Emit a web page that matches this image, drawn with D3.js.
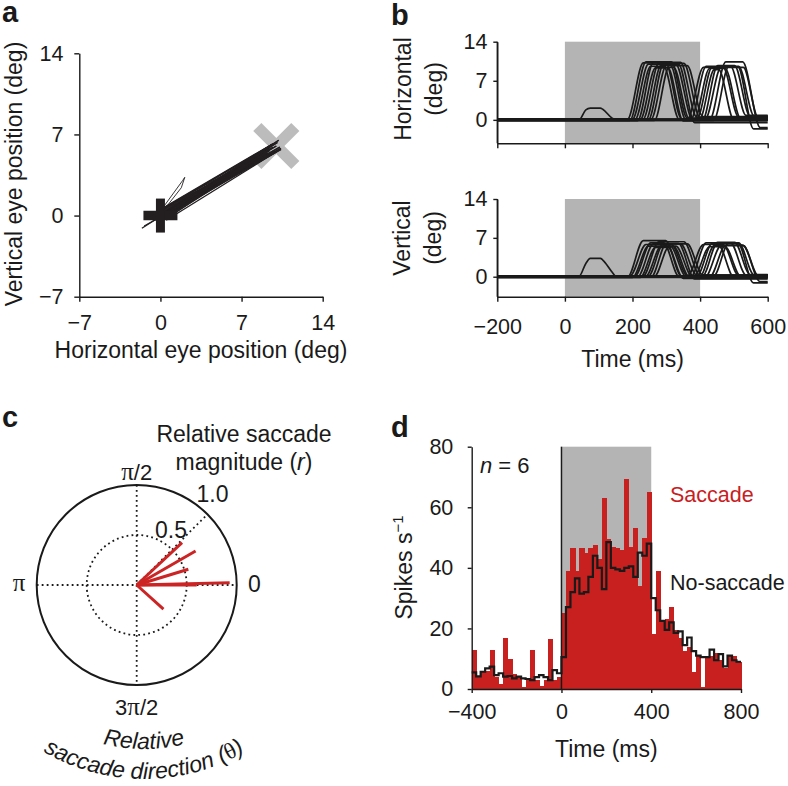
<!DOCTYPE html>
<html><head><meta charset="utf-8">
<script src="https://cdn.jsdelivr.net/npm/d3@7"></script>
<style>
body{margin:0;background:#fff}
svg{display:block;font-family:"Liberation Sans",Arial,Helvetica,sans-serif}
</style></head><body>
<svg id="fig" width="788" height="786"></svg>
<script>
// ---------------- DATA ----------------
// panel a
const eyeTicks = [-7, 0, 7, 14];
const fixationPoint = [0, 0];
const targetPoint = [10, 6];
// panel b : trials (time keypoints in ms, amplitudes in deg)
const traceTimeTicks = [-200, 0, 200, 400, 600];
const traceValueTicks = [0, 7, 14];
const stimWindow = [0, 400];
const trialOnset  = [185,192,200,207,215,223,231,239,247,255,265, 362,372,382,390,398,407,415,428,440];
const trialPeak   = [232,240,247,254,262,268,278,285,292,300,308, 410,418,428,436,442,452,462,476,485];
const trialReturn = [298,315,328,292,342,305,352,312,336,362,322, 468,490,474,512,455,502,528,526,514];
const trialBack   = [345,362,378,338,390,350,400,358,384,408,368, 514,536,520,558,500,548,572,578,560];
const trialStartH = [0.3,-0.4,0.5,0,-0.5,0.2,0.4,-0.2,0,0.5,-0.3, 0.2,0,-0.4,0.3,0.1,-0.2,0.4,0,-0.3];
const trialStartV = [-0.3,0.3,-0.4,0.4,-0.1,-0.4,0.3,0.2,0.5,-0.3,0.2, 0.3,-0.4,0.2,0.2,-0.3,0.4,-0.2,-0.3,0.3];
const trialAmpH   = [10.2,10.4,10.0,9.6,10.3,9.3,10.1,9.8,10.0,9.7,9.4, 9.4,9.6,9.2,9.5,9.0,9.7,9.4,10.4,9.6];
const trialAmpV   = [6.5,5.8,5.5,6.1,5.9,5.3,6.3,5.5,6.0,5.9,5.4, 5.8,6.1,5.4,6.0,5.6,6.2,5.6,5.7,6.1];
const trialEndH   = [0.2,0.3,0,0.1,0.5,-0.2,0.4,0,-0.5,0.6,0.2, 0.5,0.8,0.3,-1.6,0,0.6,0.4,-1.4,0.7];
const trialEndV   = [0.1,0.2,-0.1,0,0.3,-0.3,0.2,0.1,-0.4,0.3,0, 0.2,0.3,0.1,-1.1,-0.1,0.4,0.2,-0.9,0.3];
const bumpTimes = [-200, 42, 62, 75, 105, 112, 140, 152, 600];
const bumpH     = [0, 0, 1.8, 2.1, 2.1, 1.9, 0.3, 0, 0];
const bumpV     = [0, 0.1, 2.4, 3.3, 3.3, 3.0, 0.8, 0, 0];
// panel c
const polarRings = [0.5, 1.0];
const saccadeAngleDeg = [43, 30, 17, 1.4, 0, -42];
const saccadeMagnitude = [0.62, 0.68, 0.54, 0.93, 0.60, 0.36];
// panel d
const psthTimeTicks = [-400, 0, 400, 800];
const rateTicks = [0, 20, 40, 60, 80];
const binWidth = 20;
const binStarts = d3.range(-400, 800, binWidth);
const saccadeRate = [
  13,4,5.5,6,13,4,1.5,17,10,5,4,0.5,3,13,3,1,3,16.5,3,4,
  25,39,46.5,39,46.5,45,46.5,47.5,43,63,49.5,47,46.5,46,69.5,47,53,34,50,65,
  18,39,22,23,27,19.5,17,12.5,14,5.5,11,0.5,11,11,12,9.5,7,11,11,9];
const noSaccadeRate = [
  5.5,4.2,5.7,6.8,7.4,4.6,5.2,4.1,4.3,3.5,4.1,3.5,3.3,2.9,3.9,4.6,3.9,2.9,6.2,5.2,
  10.5,27,32,36.5,31.5,32,37,44,40,33,48.5,40,39.5,39,40,40.5,37,45,44,48,
  30,26,22.5,19.5,22,18.5,19,14.5,17,12.5,11,10.5,10.5,13,9.5,11.5,7.5,11,9.5,9];

// ---------------- DRAW ----------------
const svg = d3.select("#fig");
const INK = "#1a1a1a", RED = "#c8201e", GREY = "#b4b4b4", XGREY = "#bcbcbc";
const TICK = 21.5, TITLE = 23;

function styleAxis(g) {
  g.attr("font-family", null).attr("font-size", TICK);
  g.select(".domain").attr("stroke", INK).attr("stroke-width", 1.4);
  g.selectAll(".tick line").attr("stroke", INK).attr("stroke-width", 1.4);
  g.selectAll(".tick text").attr("fill", INK);
}
function label(x, y, txt, opts = {}) {
  const t = svg.append("text").attr("x", x).attr("y", y).text(txt)
    .attr("font-size", opts.size || TITLE).attr("fill", opts.fill || INK)
    .attr("text-anchor", opts.anchor || "middle");
  if (opts.rotate) t.attr("transform", `rotate(-90,${x},${y})`);
  if (opts.weight) t.attr("font-weight", opts.weight);
  if (opts.style) t.attr("font-style", opts.style);
  return t;
}

// panel letters
label(2, 22, "a", {size: 29, weight: "bold", anchor: "start"});
label(391, 25, "b", {size: 29, weight: "bold", anchor: "start"});
label(2, 427, "c", {size: 29, weight: "bold", anchor: "start"});
label(391, 437, "d", {size: 29, weight: "bold", anchor: "start"});

// ===== Panel a =====
const xA = d3.scaleLinear().domain([-7, 14]).range([79.3, 322.7]);
const yA = d3.scaleLinear().domain([-7, 14]).range([296.7, 53.3]);
svg.append("g").attr("transform", "translate(0,296.7)")
  .call(d3.axisBottom(xA).tickValues(eyeTicks).tickSize(5).tickSizeOuter(0).tickPadding(13.3)).call(styleAxis);
svg.append("g").attr("transform", "translate(79.3,0)")
  .call(d3.axisLeft(yA).tickValues(eyeTicks).tickSize(5).tickSizeOuter(0).tickPadding(10.8)).call(styleAxis);
label(201, 358, "Horizontal eye position (deg)");
label(21.5, 174, "Vertical eye position (deg)", {rotate: true});

// target X
const tx = xA(targetPoint[0]), ty = yA(targetPoint[1]);
[[1, 1], [1, -1]].forEach(([sx, sy]) => {
  svg.append("line").attr("x1", tx - 19 * sx).attr("y1", ty - 19 * sy)
    .attr("x2", tx + 19 * sx).attr("y2", ty + 19 * sy)
    .attr("stroke", XGREY).attr("stroke-width", 11.5);
});
// trajectories
const lineA = d3.line().x(d => xA(d[0])).y(d => yA(d[1]));
const gA = svg.append("g").attr("fill", "none").attr("stroke", "#231f20").attr("stroke-width", 1.3);
trialOnset.forEach((_, i) => {
  gA.append("path").attr("d", lineA([[trialStartH[i], trialStartV[i]], [trialAmpH[i], trialAmpV[i]]]));
  gA.append("path").attr("d", lineA([[trialAmpH[i], trialAmpV[i]], [trialEndH[i], trialEndV[i]]]));
});
gA.append("path").attr("d", lineA(bumpH.map((h, i) => [h, bumpV[i]]))).attr("stroke-width", 0.9);
// fixation plus
const fx = xA(fixationPoint[0]), fy = yA(fixationPoint[1]);
svg.append("line").attr("x1", fx - 17).attr("x2", fx + 17).attr("y1", fy).attr("y2", fy).attr("stroke", "#231f20").attr("stroke-width", 9.5);
svg.append("line").attr("x1", fx).attr("x2", fx).attr("y1", fy - 17).attr("y2", fy + 17).attr("stroke", "#231f20").attr("stroke-width", 9);

// ===== Panel b =====
const xB = d3.scaleLinear().domain([-200, 600]).range([497.3, 767.7]);
const yBH = d3.scaleLinear().domain([-4.2, 14]).range([143.3, 41.7]);
const yBV = d3.scaleLinear().domain([-3.6, 14]).range([296.7, 199]);
function tracePanel(y, ampArr, startArr, endArr, bumpArr, axisY, showLabels) {
  svg.append("rect").attr("x", xB(stimWindow[0])).attr("width", xB(stimWindow[1]) - xB(stimWindow[0]))
    .attr("y", y(14)).attr("height", axisY - y(14)).attr("fill", GREY);
  const ln = d3.line().x(d => xB(d[0])).y(d => y(d[1])).curve(d3.curveMonotoneX);
  const g = svg.append("g").attr("fill", "none").attr("stroke", INK).attr("stroke-width", 1.7);
  trialOnset.forEach((_, i) => {
    const s = startArr[i] * 0.3;
    const pts = [[-200, s], [trialOnset[i], s], [trialPeak[i], ampArr[i]],
      [trialReturn[i], ampArr[i]], [trialBack[i], endArr[i]], [600, endArr[i]]];
    g.append("path").attr("d", ln(pts));
  });
  g.append("path").attr("d", ln(bumpTimes.map((t, i) => [t, bumpArr[i]])));
  const ax = d3.axisBottom(xB).tickValues(traceTimeTicks).tickSize(5).tickSizeOuter(0).tickPadding(16.6);
  if (!showLabels) ax.tickFormat(() => "");
  svg.append("g").attr("transform", `translate(0,${axisY})`).call(ax).call(styleAxis);
  svg.append("g").attr("transform", "translate(497.3,0)")
    .call(d3.axisLeft(y).tickValues(traceValueTicks).tickSize(4).tickSizeOuter(0).tickPadding(5.8)).call(styleAxis);
  svg.append("line").attr("x1", 497.3).attr("x2", 497.3).attr("y1", y(14)).attr("y2", axisY).attr("stroke", INK).attr("stroke-width", 1.4);
}
tracePanel(yBH, trialAmpH, trialStartH, trialEndH, bumpH, 143.3, false);
tracePanel(yBV, trialAmpV, trialStartV, trialEndV, bumpV, 296.7, true);
label(410.5, 89, "Horizontal", {rotate: true});
label(441.5, 89, "(deg)", {rotate: true});
label(410, 238, "Vertical", {rotate: true});
label(441, 238, "(deg)", {rotate: true});
label(632.5, 366.5, "Time (ms)");

// ===== Panel c =====
const cx = 136.7, cy = 585;
const rC = d3.scaleLinear().domain([0, 1]).range([0, 100]);
const dotted = {stroke: INK, "stroke-width": 1.8, "stroke-dasharray": "1.8,3.2"};
function applyAttrs(sel, o) { Object.entries(o).forEach(([k, v]) => sel.attr(k, v)); return sel; }
applyAttrs(svg.append("circle").attr("cx", cx).attr("cy", cy).attr("r", rC(polarRings[0])).attr("fill", "none"), dotted);
applyAttrs(svg.append("line").attr("x1", cx - rC(1)).attr("x2", cx + rC(1)).attr("y1", cy).attr("y2", cy), dotted);
applyAttrs(svg.append("line").attr("x1", cx).attr("x2", cx).attr("y1", cy - rC(1)).attr("y2", cy + rC(1)), dotted);
applyAttrs(svg.append("line").attr("x1", cx).attr("y1", cy)
  .attr("x2", cx + rC(1) * Math.cos(Math.PI / 4)).attr("y2", cy - rC(1) * Math.sin(Math.PI / 4)), dotted);
svg.append("circle").attr("cx", cx).attr("cy", cy).attr("r", rC(polarRings[1])).attr("fill", "none")
  .attr("stroke", INK).attr("stroke-width", 2);
const gC = svg.append("g").attr("stroke", "#cc2424").attr("stroke-width", 3).attr("stroke-linecap", "butt");
saccadeAngleDeg.forEach((a, i) => {
  const th = a * Math.PI / 180;
  gC.append("line").attr("x1", cx).attr("y1", cy)
    .attr("x2", cx + rC(saccadeMagnitude[i]) * Math.cos(th))
    .attr("y2", cy - rC(saccadeMagnitude[i]) * Math.sin(th));
});
const serif = '"Liberation Serif","Times New Roman",serif';
function piLabel(x, y, pre, post) {
  const t = label(x, y, "", {size: 22});
  if (pre) t.append("tspan").text(pre);
  t.append("tspan").attr("font-family", serif).attr("font-size", 25).text("π");
  if (post) t.append("tspan").text(post);
}
piLabel(cx, 480, "", "/2");
piLabel(19, 591, "", "");
piLabel(cx, 715, "3", "/2");
label(248, 592, "0", {anchor: "start"});
label(171, 538, polarRings[0].toFixed(1));
label(212.5, 502, polarRings[1].toFixed(1));
label(244, 441.5, "Relative saccade");
const mag = label(244, 470, "magnitude (");
mag.append("tspan").attr("font-style", "italic").text("r");
mag.append("tspan").text(")");
// curved axis title
const defs = svg.append("defs");
const acx = 144, acy = 580;
function arcD(R) {
  const a = 85 * Math.PI / 180;
  return `M${acx - R * Math.sin(a)},${acy + R * Math.cos(a)} A${R},${R} 0 0 0 ${acx + R * Math.sin(a)},${acy + R * Math.cos(a)}`;
}
defs.append("path").attr("id", "arc1").attr("d", arcD(169));
defs.append("path").attr("id", "arc2").attr("d", arcD(199));
svg.append("text").attr("font-size", TITLE).attr("font-style", "italic").attr("fill", INK)
  .append("textPath").attr("href", "#arc1").attr("startOffset", "50%").attr("text-anchor", "middle").text("Relative");
const tp = svg.append("text").attr("font-size", TITLE).attr("font-style", "italic").attr("fill", INK)
  .append("textPath").attr("href", "#arc2").attr("startOffset", "50%").attr("text-anchor", "middle");
tp.append("tspan").text("saccade direction (");
tp.append("tspan").attr("font-family", serif).attr("font-style", "normal").text("θ");
tp.append("tspan").text(")");

// ===== Panel d =====
const xD = d3.scaleLinear().domain([-400, 800]).range([471.7, 741]);
const yD = d3.scaleLinear().domain([0, 80]).range([689, 446.7]);
svg.append("rect").attr("x", xD(stimWindow[0])).attr("width", xD(stimWindow[1]) - xD(stimWindow[0]))
  .attr("y", yD(80)).attr("height", yD(0) - yD(80)).attr("fill", GREY);
svg.append("g").attr("fill", RED).attr("shape-rendering", "crispEdges")
  .selectAll("rect").data(binStarts).join("rect")
  .attr("x", d => xD(d)).attr("width", xD(binWidth) - xD(0) + 0.6)
  .attr("y", (d, i) => yD(saccadeRate[i])).attr("height", (d, i) => yD(0) - yD(saccadeRate[i]));
svg.append("line").attr("x1", xD(0)).attr("x2", xD(0)).attr("y1", yD(0)).attr("y2", yD(80))
  .attr("stroke", INK).attr("stroke-width", 1.5);
const stepPts = binStarts.map((t, i) => [t, noSaccadeRate[i]]);
stepPts.push([800, noSaccadeRate[noSaccadeRate.length - 1]]);
svg.append("path").attr("d", d3.line().x(d => xD(d[0])).y(d => yD(d[1])).curve(d3.curveStepAfter)(stepPts))
  .attr("fill", "none").attr("stroke", INK).attr("stroke-width", 2.2);
svg.append("g").attr("transform", "translate(0,689)")
  .call(d3.axisBottom(xD).tickValues(psthTimeTicks).tickSize(4).tickSizeOuter(0).tickPadding(11)).call(styleAxis);
svg.append("g").attr("transform", "translate(471.7,0)")
  .call(d3.axisLeft(yD).tickValues(rateTicks).tickSize(4).tickSizeOuter(0).tickPadding(14.4)).call(styleAxis);
label(606.3, 756.5, "Time (ms)");
const sp = label(411.5, 567.5, "Spikes s", {rotate: true});
sp.append("tspan").attr("font-size", 15).attr("dy", -9).text("−1");
const nt = label(480, 473, "", {anchor: "start", size: 22});
nt.append("tspan").attr("font-style", "italic").text("n");
nt.append("tspan").text(" = 6");
label(670, 502, "Saccade", {anchor: "start", size: 21.5, fill: RED});
label(670, 590, "No-saccade", {anchor: "start", size: 21.5});
</script>
</body></html>
